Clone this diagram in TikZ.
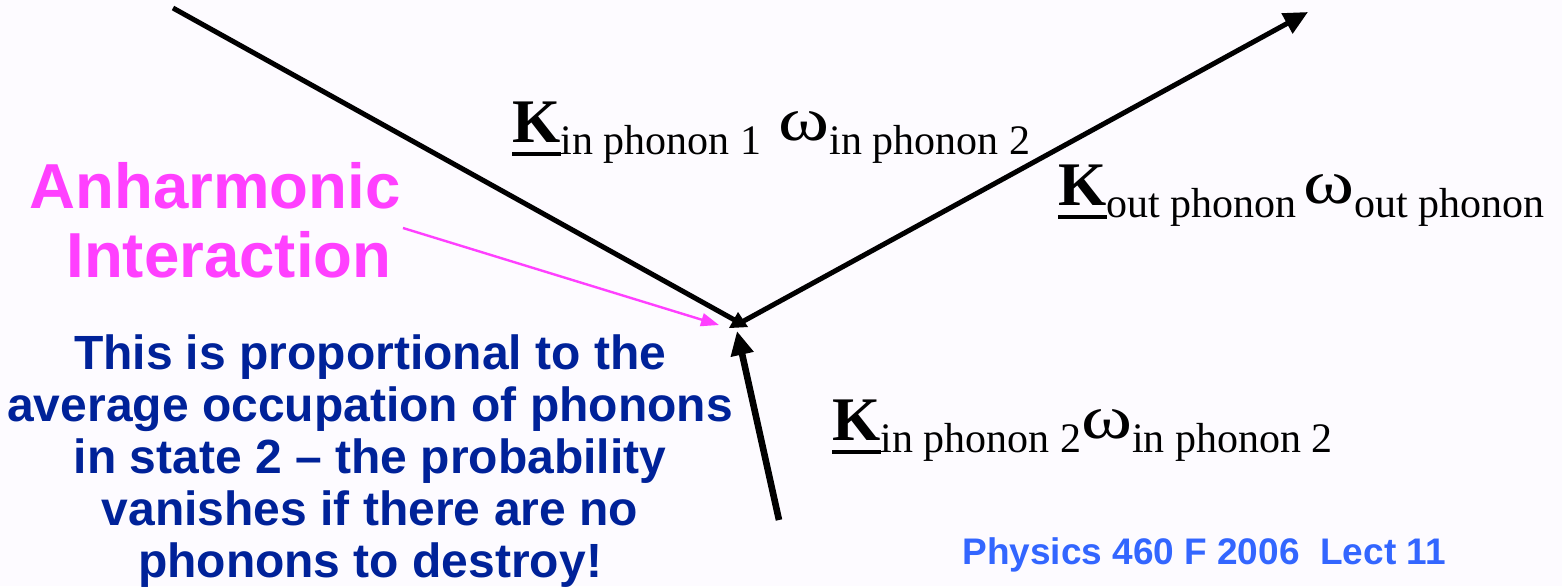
\documentclass[tikz,border=0pt]{standalone}
\usepackage{fontspec}
\usepackage{graphicx}
\setmainfont{Liberation Serif}
\newfontfamily\arialf{Liberation Sans}
\usetikzlibrary{arrows.meta}
\definecolor{bgc}{RGB}{253,251,255}
\definecolor{magc}{RGB}{255,64,255}
\definecolor{navyc}{RGB}{0,34,153}
\definecolor{physc}{RGB}{51,102,255}
\newlength\kwid
\newcommand{\ulK}{\settowidth{\kwid}{K}\rlap{\rule[-7pt]{\kwid}{2pt}}K}
\newcommand{\kwlab}[2]{{\fontsize{31}{31}\selectfont\bfseries\ulK}{\fontsize{21}{20}\selectfont\raisebox{-6pt}{#1}}{\fontsize{31}{31}\selectfont\raisebox{1pt}{\scalebox{1.25}[1]{ω}}}{\fontsize{21}{20}\selectfont\raisebox{-6pt}{#2}}}
\begin{document}
\begin{tikzpicture}[x=0.5pt,y=-0.5pt,
  mainline/.style={line width=2.5pt,black},
  serifk/.style={inner sep=0pt,anchor=base west},
  sanslab/.style={inner sep=0pt,align=center}]
\fill[bgc] (0,0) rectangle (1562,586);
\useasboundingbox (0,0) rectangle (1562,586);
% coordinates
\coordinate (p1) at (173,8);
\coordinate (vtx) at (740,323);
\coordinate (outend) at (1308,12);
\coordinate (inbot) at (779,520);
\coordinate (intip) at (737,331);
\coordinate (magstart) at (403,228);
\coordinate (magtip) at (719,325);
% lines
\draw[mainline] (p1) -- (vtx);
\draw[mainline,-{Triangle[length=12pt,width=11pt]}] (vtx) -- (outend);
\draw[line width=3.3pt,-{Triangle[length=12pt,width=11pt]}] (inbot) -- (intip);
\fill[black] (738,312) -- (729,328) -- (748,327) -- cycle;
\draw[magc,line width=1.2pt,-{Triangle[length=9pt,width=6.5pt]}] (magstart) -- (magtip);
% labels
\node[serifk] (lab1) at (512,142) {\kwlab{in phonon 1\ \,}{in phonon 2}};
\node[serifk] (lab2) at (1058,205) {\kwlab{out phonon\,}{out phonon}};
\node[serifk] (lab3) at (832,440) {\kwlab{in phonon 2}{in phonon 2}};
\node[sanslab,text=magc,font=\arialf\bfseries\fontsize{31.8}{34.5}\selectfont,anchor=base] (anh) at (215,277) {Anharmonic\\\hspace*{14pt}Interaction};
\node[sanslab,text=navyc,font=\arialf\bfseries\fontsize{24}{26}\selectfont,anchor=base] (para) at (370,577) {This is proportional to the\\average occupation of phonons\\in state 2 – the probability\\vanishes if there are no\\phonons to destroy!};
\node[inner sep=0pt,anchor=base west,text=physc,font=\arialf\bfseries\fontsize{18.5}{19}\selectfont] (phys) at (962,564) {Physics 460 F 2006\ \ Lect 11};
\end{tikzpicture}
\end{document}
